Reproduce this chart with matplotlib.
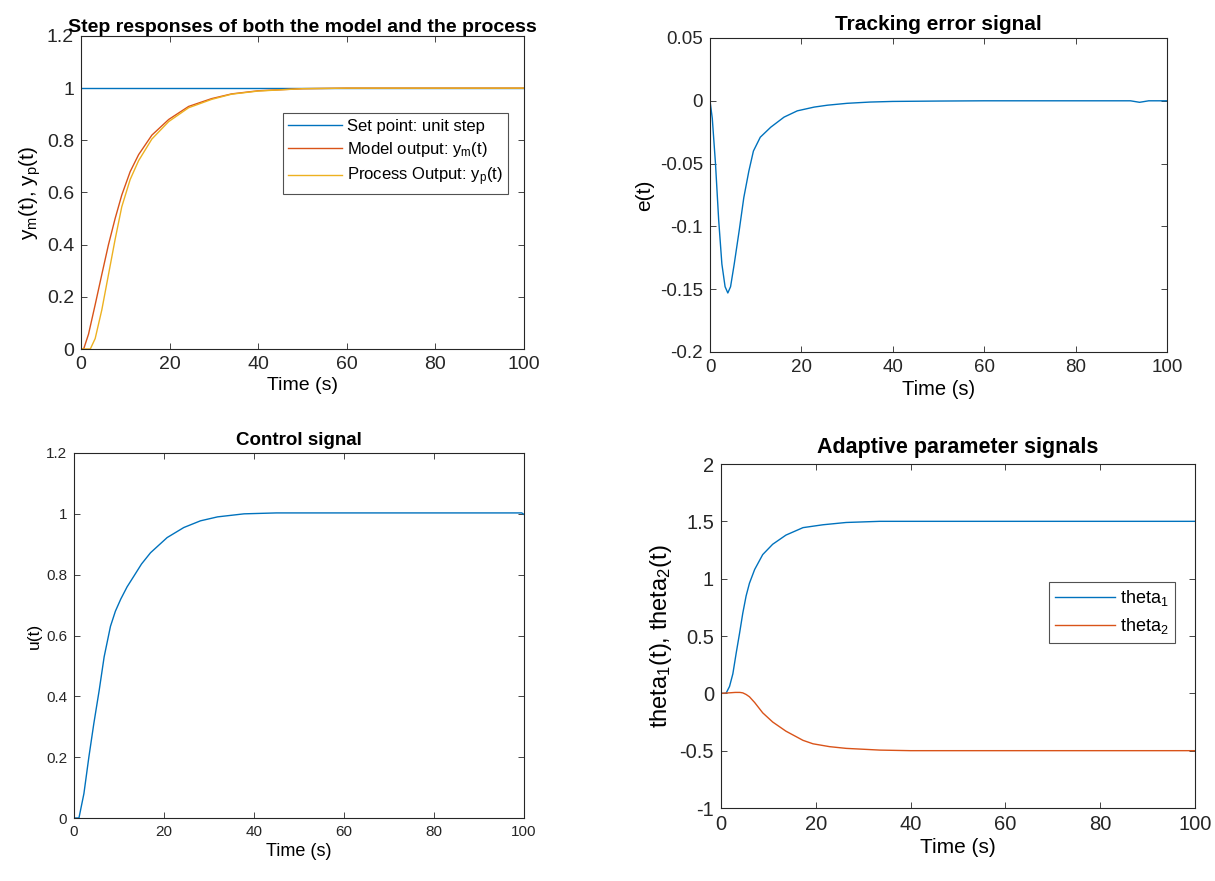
import numpy as np
import matplotlib
matplotlib.use('Agg')
import matplotlib.pyplot as plt

plt.rcParams['font.family'] = ['Liberation Sans', 'DejaVu Sans']
plt.rcParams['mathtext.default'] = 'regular'

# MATLAB default colours
BLUE = '#0072BD'
ORANGE = '#D95319'
YELLOW = '#EDB120'

# ---- step responses ----
t_set = [0, 100]
setpoint = [1, 1]
t_model = [0, 0.6, 1.7, 3.2, 4.7, 6.2, 7.7, 9.2, 11.1, 13, 16, 19.8, 24.3, 29.5, 34, 40, 50, 60, 100]
y_model = [0, 0, 0.057, 0.17, 0.286, 0.4, 0.5, 0.59, 0.68, 0.745, 0.82, 0.88, 0.93, 0.96, 0.978, 0.99, 0.998, 1.0, 1.0]
t_proc = [0, 2.1, 3.2, 4.7, 6.2, 7.7, 9.2, 11.1, 13, 16, 19.8, 24.3, 29.5, 34, 40, 50, 60, 100]
y_proc = [0, 0, 0.04, 0.15, 0.285, 0.42, 0.545, 0.65, 0.722, 0.805, 0.872, 0.925, 0.957, 0.977, 0.989, 0.998, 1.0, 1.0]

# ---- tracking error ----
t_err = [0, 0.5, 1.2, 1.9, 2.6, 3.3, 3.9, 4.5, 5.3, 6.4, 7.4, 8.5, 9.5, 11, 13.3, 16.2, 19.1, 22.8, 25.7, 30, 35, 40, 50, 60, 80, 92, 94, 96, 100]
e_track = [0, -0.014, -0.05, -0.095, -0.13, -0.148, -0.153, -0.148, -0.13, -0.103, -0.077, -0.056, -0.04, -0.029, -0.021, -0.013, -0.008, -0.005, -0.0035, -0.002, -0.001, -0.0005, -0.0002, 0, 0, 0, -0.0012, 0, 0]

# ---- control signal ----
t_u = [0, 1.1, 2.2, 3.3, 4.4, 5.6, 6.7, 8.1, 9.2, 10.4, 11.8, 13.3, 15, 17, 20.7, 24.4, 28.1, 31.9, 37.8, 45, 60, 80, 99.5, 100]
u_ctrl = [0, 0, 0.08, 0.2, 0.31, 0.42, 0.53, 0.63, 0.68, 0.72, 0.76, 0.795, 0.835, 0.872, 0.922, 0.955, 0.977, 0.99, 1.0, 1.003, 1.003, 1.003, 1.003, 0.998]

# ---- adaptive parameters ----
t_th1 = [0, 1.06, 1.8, 2.5, 3.2, 3.9, 4.6, 5.3, 6, 7.1, 8.8, 10.9, 13.7, 17.3, 21.5, 26.4, 33.5, 40, 60, 100]
theta1 = [0, 0, 0.06, 0.17, 0.35, 0.52, 0.7, 0.85, 0.96, 1.08, 1.21, 1.3, 1.38, 1.445, 1.47, 1.49, 1.5, 1.5, 1.5, 1.5]
t_th2 = [0, 2, 3, 4, 4.6, 5.3, 6, 7.1, 8.8, 10.9, 13.7, 17.3, 19.4, 22.9, 26.4, 33.5, 40, 60, 100]
theta2 = [0, 0.005, 0.008, 0.008, 0.004, -0.01, -0.03, -0.08, -0.17, -0.25, -0.33, -0.41, -0.44, -0.465, -0.48, -0.495, -0.5, -0.5, -0.5]

W, H = 1215, 881
fig = plt.figure(figsize=(W / 100, H / 100), dpi=100)


def px_axes(l, t, r, b):
    return fig.add_axes([l / W, 1 - b / H, (r - l) / W, (b - t) / H])


def matlab_style(ax, fs):
    ax.tick_params(direction='in', top=True, right=True, labelsize=fs, length=4, width=0.6,
                   colors='#262626', pad=5)
    for s in ax.spines.values():
        s.set_linewidth(0.8)
        s.set_color('#262626')
    ax.set_xlim(0, 100)
    ax.set_xticks([0, 20, 40, 60, 80, 100])


# top-left
ax1 = px_axes(81, 36, 524, 349)
ax1.plot(t_set, setpoint, color=BLUE, lw=1.0, label='Set point: unit step')
ax1.plot(t_model, y_model, color=ORANGE, lw=1.0, label='Model output: y$_m$(t)')
ax1.plot(t_proc, y_proc, color=YELLOW, lw=1.0, label='Process Output: y$_p$(t)')
matlab_style(ax1, 14)
ax1.set_ylim(0, 1.2)
ax1.set_yticks([0, 0.2, 0.4, 0.6, 0.8, 1.0, 1.2])
ax1.set_yticklabels(['0', '0.2', '0.4', '0.6', '0.8', '1', '1.2'])
ax1.set_title('Step responses of both the model and the process', fontsize=14, fontweight='bold', pad=3)
ax1.set_xlabel('Time (s)', fontsize=14, labelpad=3)
ax1.set_ylabel('y$_m$(t), y$_p$(t)', fontsize=15, labelpad=3)
leg1 = ax1.legend(loc='upper left', bbox_to_anchor=(0.455, 0.755), fontsize=12, frameon=True,
                  fancybox=False, edgecolor='#262626', handlelength=3.2, handletextpad=0.3,
                  borderpad=0.35, labelspacing=0.4, borderaxespad=0)
leg1.get_frame().set_linewidth(0.8)

# top-right
ax2 = px_axes(710, 38, 1167, 352)
ax2.plot(t_err, e_track, color=BLUE, lw=1.0)
matlab_style(ax2, 13.5)
ax2.set_ylim(-0.2, 0.05)
ax2.set_yticks([-0.2, -0.15, -0.1, -0.05, 0, 0.05])
ax2.set_yticklabels(['-0.2', '-0.15', '-0.1', '-0.05', '0', '0.05'])
ax2.set_title('Tracking error signal', fontsize=15, fontweight='bold', pad=6)
ax2.set_xlabel('Time (s)', fontsize=14.5, labelpad=3)
ax2.set_ylabel('e(t)', fontsize=15, labelpad=4)

# bottom-left
ax3 = px_axes(74, 453, 524, 818)
ax3.plot(t_u, u_ctrl, color=BLUE, lw=1.0)
matlab_style(ax3, 11)
ax3.set_ylim(0, 1.2)
ax3.set_yticks([0, 0.2, 0.4, 0.6, 0.8, 1.0, 1.2])
ax3.set_yticklabels(['0', '0.2', '0.4', '0.6', '0.8', '1', '1.2'])
ax3.set_title('Control signal', fontsize=13.5, fontweight='bold', pad=6)
ax3.set_xlabel('Time (s)', fontsize=13, labelpad=3)
ax3.set_ylabel('u(t)', fontsize=12.5, labelpad=3)

# bottom-right
ax4 = px_axes(721, 464, 1195, 808)
ax4.plot(t_th1, theta1, color=BLUE, lw=1.0, label='theta$_1$')
ax4.plot(t_th2, theta2, color=ORANGE, lw=1.0, label='theta$_2$')
matlab_style(ax4, 14.5)
ax4.set_ylim(-1, 2)
ax4.set_yticks([-1, -0.5, 0, 0.5, 1, 1.5, 2])
ax4.set_yticklabels(['-1', '-0.5', '0', '0.5', '1', '1.5', '2'])
ax4.set_title('Adaptive parameter signals', fontsize=15.5, fontweight='bold', pad=8)
ax4.set_xlabel('Time (s)', fontsize=15, labelpad=3)
ax4.set_ylabel('theta$_1$(t), theta$_2$(t)', fontsize=17, labelpad=4)
leg4 = ax4.legend(loc='upper left', bbox_to_anchor=(0.692, 0.657), fontsize=13, frameon=True,
                  fancybox=False, edgecolor='#262626', handlelength=3.3, handletextpad=0.3,
                  borderpad=0.35, labelspacing=0.45, borderaxespad=0)
leg4.get_frame().set_linewidth(0.8)

fig.savefig('out.png', dpi=100)
